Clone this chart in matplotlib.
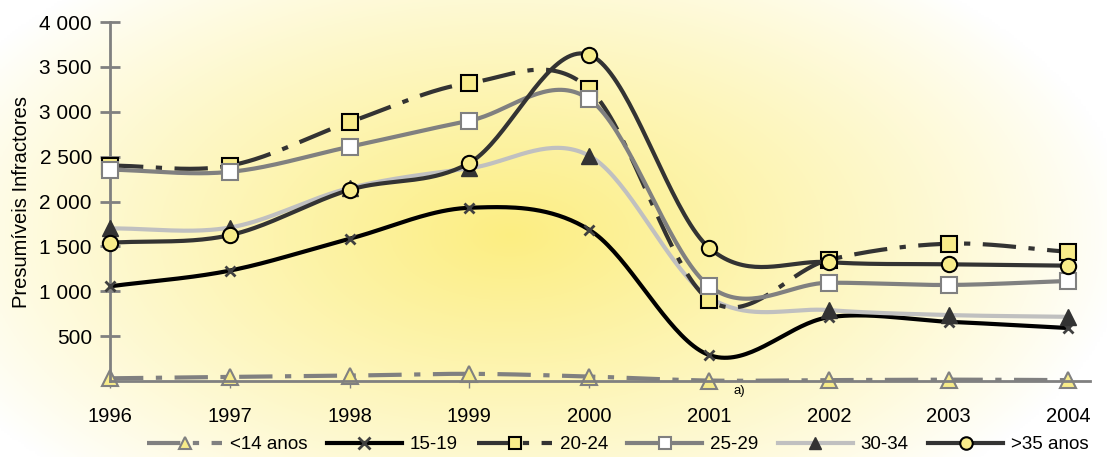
import numpy as np
import matplotlib
matplotlib.use("Agg")
import matplotlib.pyplot as plt
from matplotlib.lines import Line2D

plt.rcParams['font.family'] = ['Liberation Sans', 'DejaVu Sans']

years = [1996, 1997, 1998, 1999, 2000, 2001, 2002, 2003, 2004]
labels = ["<14 anos", "15-19", "20-24", "25-29", "30-34", ">35 anos"]
s_lt14 = [30, 45, 60, 80, 50, 5, 10, 15, 10]
s_15_19 = [1055, 1230, 1585, 1930, 1685, 290, 710, 660, 590]
s_20_24 = [2400, 2400, 2885, 3320, 3255, 905, 1350, 1530, 1440]
s_25_29 = [2355, 2330, 2610, 2900, 3140, 1060, 1095, 1070, 1115]
s_30_34 = [1700, 1710, 2150, 2370, 2510, 935, 790, 735, 715]
s_gt35 = [1540, 1625, 2130, 2430, 3635, 1485, 1325, 1300, 1285]
yticks = [500, 1000, 1500, 2000, 2500, 3000, 3500, 4000]


def smooth(x, y, n=40):
    x = np.asarray(x, float); y = np.asarray(y, float)
    px = np.concatenate([[2*x[0]-x[1]], x, [2*x[-1]-x[-2]]])
    py = np.concatenate([[2*y[0]-y[1]], y, [2*y[-1]-y[-2]]])
    xs, ys = [], []
    t = np.linspace(0, 1, n)
    for i in range(1, len(px)-2):
        p0x, p1x, p2x, p3x = px[i-1], px[i], px[i+1], px[i+2]
        p0y, p1y, p2y, p3y = py[i-1], py[i], py[i+1], py[i+2]
        c1x = p1x + (p2x - p0x)/6; c1y = p1y + (p2y - p0y)/6
        c2x = p2x - (p3x - p1x)/6; c2y = p2y - (p3y - p1y)/6
        bx = (1-t)**3*p1x + 3*(1-t)**2*t*c1x + 3*(1-t)*t**2*c2x + t**3*p2x
        by = (1-t)**3*p1y + 3*(1-t)**2*t*c1y + 3*(1-t)*t**2*c2y + t**3*p2y
        xs.append(bx); ys.append(by)
    return np.concatenate(xs), np.concatenate(ys)


fig = plt.figure(figsize=(11.07, 4.57), dpi=100)

# background radial gradient
bg = fig.add_axes([0, 0, 1, 1], zorder=-10)
gx, gy = np.meshgrid(np.linspace(0, 1107, 400), np.linspace(0, 457, 200))
r = np.sqrt(((gx - 510) / 620) ** 2 + ((gy - 235) / 340) ** 2)
w = np.clip(1 - r, 0, 1) ** 0.9
c0 = np.array([1.0, 1.0, 1.0]); c1 = np.array([252, 238, 130]) / 255
img = c0[None, None, :] * (1 - w[..., None]) + c1[None, None, :] * w[..., None]
bg.imshow(img, extent=[0, 1107, 457, 0], aspect='auto')
bg.set_axis_off()

ax = fig.add_axes([110/1107, 76/457, (1090-110)/1107, (381-22)/457])
ax.patch.set_alpha(0)

dd = (8, 3, 1.5, 3)
styles = [
    dict(data=s_lt14, color='#808080', ls=(0, dd), marker='^', mfc='#f8ec8a', mec='#808080', ms=11, mew=1.5, z=2),
    dict(data=s_15_19, color='#000000', ls='-', marker='x', mfc='none', mec='#404040', ms=7, mew=2, z=3),
    dict(data=s_20_24, color='#333333', ls=(0, dd), marker='s', mfc='#f8ec8a', mec='#000000', ms=11, mew=1.5, z=4),
    dict(data=s_25_29, color='#808080', ls='-', marker='s', mfc='#ffffff', mec='#808080', ms=11, mew=1.5, z=5),
    dict(data=s_30_34, color='#c0c0c0', ls='-', marker='^', mfc='#333333', mec='#333333', ms=11, mew=1, z=3.5),
    dict(data=s_gt35, color='#333333', ls='-', marker='o', mfc='#f8ec8a', mec='#000000', ms=11, mew=1.5, z=6),
]

handles = []
for lab, st in zip(labels, styles):
    sx, sy = smooth(years, st['data'])
    ax.plot(sx, sy, color=st['color'], ls=st['ls'], lw=3, zorder=st['z'], solid_capstyle='butt', dash_capstyle='butt')
    ax.plot(years, st['data'], ls='none', marker=st['marker'], mfc=st['mfc'], mec=st['mec'],
            ms=st['ms'], mew=st['mew'], zorder=st['z'] + 0.1, clip_on=False)
    handles.append(Line2D([0], [0], color=st['color'], ls=st['ls'], lw=3, marker=st['marker'],
                          mfc=st['mfc'], mec=st['mec'], ms=9, mew=st['mew']))

ax.set_xlim(1996, 2004.18)
ax.set_ylim(0, 4000)
ax.set_xticks(years)
ax.set_xticklabels([str(y) for y in years], fontsize=14.5)
ax.set_yticks(yticks)
ax.set_yticklabels([f"{v:,}".replace(",", " ") for v in yticks], fontsize=15)
for s in ['top', 'right']:
    ax.spines[s].set_visible(False)
for s in ['left', 'bottom']:
    ax.spines[s].set_color('#808080')
    ax.spines[s].set_linewidth(2)
ax.tick_params(axis='y', direction='inout', length=14, width=2, color='#808080', pad=6)
ax.tick_params(axis='x', direction='inout', length=10, width=1, color='#808080', pad=14)
ax.set_ylabel("Presumíveis Infractores", fontsize=14.5, labelpad=6)

ax.text(2001.25, -40, "a)", fontsize=9.5, ha='center', va='top')

fig.legend(handles, labels, loc='lower center', bbox_to_anchor=(0.558, -0.025), ncol=6, frameon=False,
           fontsize=13.5, handlelength=4.0, handletextpad=0.4, columnspacing=1.05, borderpad=0.3)

fig.savefig("out.png", dpi=100)
